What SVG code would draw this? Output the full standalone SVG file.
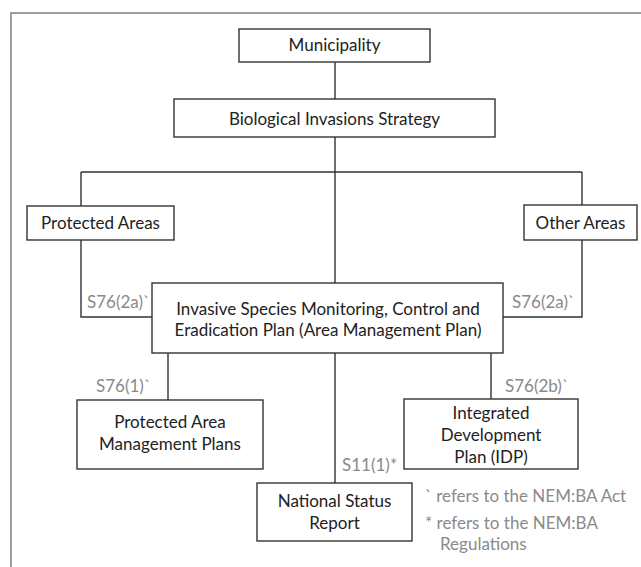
<svg xmlns="http://www.w3.org/2000/svg" width="641" height="567" viewBox="0 0 641 567">
<style>
.box{fill:#fff;stroke:#333;stroke-width:1.4}
.t{font-family:Lato,"Liberation Sans",sans-serif;font-size:17px;fill:#222;text-anchor:middle}
.lbl{font-family:Lato,"Liberation Sans",sans-serif;font-size:17px;fill:#8a8a8a}
.c{fill:none;stroke:#333;stroke-width:1.4}
</style>
<rect x="0" y="0" width="641" height="567" fill="#fff"/>
<rect x="11" y="13" width="660" height="600" fill="none" stroke="#777" stroke-width="1.4"/>
<g id="connectors">
<path class="c" d="M335 62V99M335 137V283M81 172H582M81 172V206M81 240V317H152M582 172V205M582 240V317H503M168 353V400M335 353V483M491 353V399"/>
</g>
<g id="municipality"><rect class="box" x="239" y="29" width="191" height="33"/><text class="t" x="334.5" y="51">Municipality</text></g>
<g id="bis"><rect class="box" x="174" y="99" width="321" height="38"/><text class="t" x="334.5" y="125">Biological Invasions Strategy</text></g>
<g id="protected-areas"><rect class="box" x="27" y="206" width="147" height="34"/><text class="t" x="100.5" y="229">Protected Areas</text></g>
<g id="other-areas"><rect class="box" x="524" y="205" width="113" height="35"/><text class="t" x="580.5" y="229">Other Areas</text></g>
<g id="iscp"><rect class="box" x="152" y="283" width="351" height="70"/><text class="t" x="328" y="314.5">Invasive Species Monitoring, Control and</text><text class="t" x="328" y="335.5">Eradication Plan (Area Management Plan)</text></g>
<g id="pamp"><rect class="box" x="77" y="400" width="186" height="69"/><text class="t" x="170" y="427.5">Protected Area</text><text class="t" x="170" y="449.5">Management Plans</text></g>
<g id="idp"><rect class="box" x="404" y="399" width="174" height="70"/><text class="t" x="491" y="419">Integrated</text><text class="t" x="491" y="440.5">Development</text><text class="t" x="491" y="462.5">Plan (IDP)</text></g>
<g id="nsr"><rect class="box" x="257" y="483" width="155" height="58"/><text class="t" x="334.5" y="507">National Status</text><text class="t" x="334.5" y="529">Report</text></g>
<g id="labels">
<text class="lbl" x="87" y="308">S76(2a)`</text>
<text class="lbl" x="512" y="308">S76(2a)`</text>
<text class="lbl" x="96" y="392">S76(1)`</text>
<text class="lbl" x="505" y="392">S76(2b)`</text>
<text class="lbl" x="342" y="471">S11(1)*</text>
<text class="lbl" x="425" y="501.5">` refers to the NEM:BA Act</text>
<text class="lbl" x="425" y="529">* refers to the NEM:BA</text>
<text class="lbl" x="440" y="550">Regulations</text>
</g>
</svg>
